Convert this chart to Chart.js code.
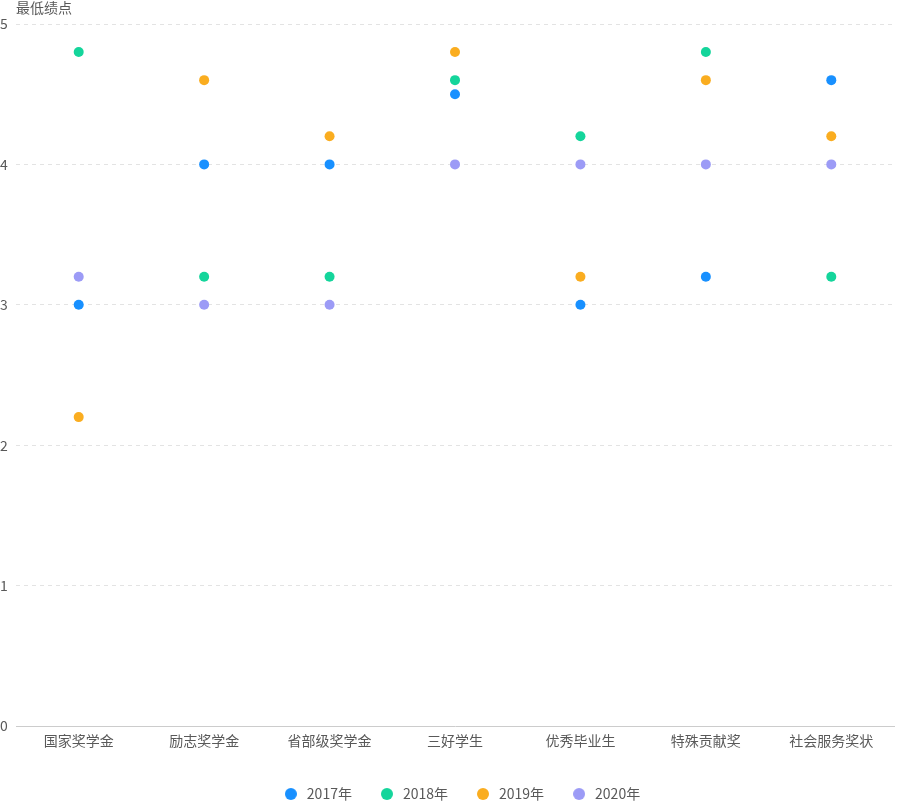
<!DOCTYPE html>
<html>
<head>
<meta charset="utf-8">
<script src="https://cdn.jsdelivr.net/npm/chart.js@4/dist/chart.umd.min.js"></script>
<style>
  html, body { margin: 0; padding: 0; background: #fff; }
  #wrap { width: 922px; height: 807px; }
</style>
</head>
<body>
<div id="wrap"><canvas id="c" width="922" height="807"></canvas></div>
<script>
const categories = ['国家奖学金', '励志奖学金', '省部级奖学金', '三好学生', '优秀毕业生', '特殊贡献奖', '社会服务奖状'];
const seriesNames = ['2017年', '2018年', '2019年', '2020年'];
const values2017 = [3, 4, 4, 4.5, 3, 3.2, 4.6];
const values2018 = [4.8, 3.2, 3.2, 4.6, 4.2, 4.8, 3.2];
const values2019 = [2.2, 4.6, 4.2, 4.8, 3.2, 4.6, 4.2];
const values2020 = [3.2, 3, 3, 4, 4, 4, 4];
const yTicks = [0, 1, 2, 3, 4, 5];
const axisTitle = '最低绩点';
const colors = ['#1890FF', '#14D59B', '#FAAD20', '#9C9BF6'];

const FONT = '"Noto Sans CJK SC", "Noto Sans", sans-serif';
const allValues = [values2017, values2018, values2019, values2020];

function makeDot(color) {
  const c = document.createElement('canvas');
  c.width = 12; c.height = 12;
  const g = c.getContext('2d');
  g.fillStyle = color;
  g.beginPath();
  g.arc(6, 6, 6, 0, Math.PI * 2);
  g.fill();
  return c;
}
const legendDots = colors.map(makeDot);

const datasets = seriesNames.map((name, i) => ({
  label: name,
  data: allValues[i],
  showLine: false,
  backgroundColor: colors[i],
  borderColor: colors[i],
  pointRadius: 5,
  pointHoverRadius: 5,
  pointBorderWidth: 0,
  pointStyle: 'circle',
  yAxisID: 'y'
}));

const axisTitlePlugin = {
  id: 'axisTitle',
  afterDraw(chart) {
    const ctx = chart.ctx;
    ctx.save();
    ctx.font = '14px ' + FONT;
    ctx.fillStyle = '#595959';
    ctx.textAlign = 'left';
    ctx.textBaseline = 'middle';
    ctx.fillText(axisTitle, chart.chartArea.left, 8);
    ctx.restore();
  }
};

new Chart(document.getElementById('c'), {
  type: 'line',
  data: { labels: categories, datasets },
  plugins: [axisTitlePlugin],
  options: {
    responsive: false,
    animation: false,
    devicePixelRatio: 1,
    layout: { padding: { top: 24, right: 0, left: 0, bottom: -4 } },
    plugins: {
      tooltip: { enabled: false },
      legend: {
        position: 'bottom',
        labels: {
          usePointStyle: true,
          pointStyleWidth: 18,
          boxWidth: 18,
          boxHeight: 12,
          padding: 26,
          color: '#595959',
          font: { family: FONT, size: 14 },
          generateLabels(chart) {
            const items = Chart.defaults.plugins.legend.labels.generateLabels(chart);
            items.forEach((it, i) => { it.pointStyle = legendDots[i]; });
            return items;
          }
        }
      }
    },
    scales: {
      x: {
        offset: true,
        grid: { display: false, drawTicks: false },
        border: { display: true, color: '#cccccc', width: 1 },
        afterFit(scale) { scale.height = 35; },
        ticks: {
          padding: 6,
          color: '#595959',
          font: { family: FONT, size: 14 },
          maxRotation: 0,
          autoSkip: false
        }
      },
      y: {
        min: 0,
        max: 5,
        afterBuildTicks(scale) { scale.ticks = yTicks.map(v => ({ value: v })); },
        afterFit(scale) { scale.width = 16; },
        grid: {
          color: ctx => ctx.tick && ctx.tick.value === 0 ? 'rgba(0,0,0,0)' : '#e3e3e3',
          drawTicks: false
        },
        border: { display: false, dash: [4, 4] },
        ticks: {
          padding: 0,
          crossAlign: 'far',
          color: '#595959',
          font: { family: FONT, size: 14 }
        }
      },
      spacer: {
        type: 'linear',
        position: 'right',
        min: 0,
        max: 5,
        afterFit(scale) { scale.width = 28; },
        grid: { display: false, drawTicks: false },
        border: { display: false },
        ticks: { display: false }
      }
    }
  }
});
</script>
</body>
</html>
